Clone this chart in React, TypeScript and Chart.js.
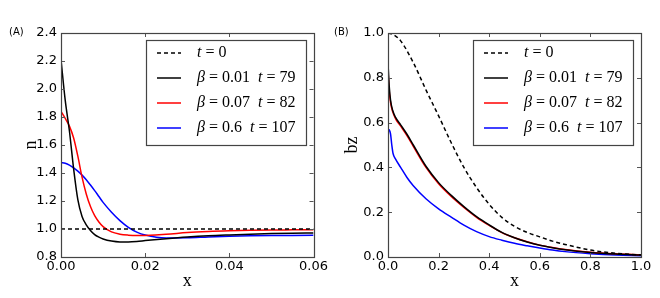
import React, { useEffect, useRef } from 'react';
import { Chart, registerables } from 'chart.js';

Chart.register(...registerables);

// ---------- Panel A : density n ----------
const xA = [0, 0.001, 0.002, 0.003, 0.004, 0.005, 0.006, 0.007, 0.008, 0.009, 0.010, 0.012, 0.014, 0.016, 0.018, 0.020, 0.025, 0.030, 0.035, 0.040, 0.045, 0.050, 0.055, 0.060];
const xA0 = [0, 0.06];
const nT0 = [1.0, 1.0];
const nB001 = [2.21, 1.92, 1.70, 1.43, 1.21, 1.09, 1.03, 0.99, 0.96, 0.942, 0.929, 0.914, 0.908, 0.908, 0.911, 0.917, 0.931, 0.943, 0.952, 0.958, 0.963, 0.967, 0.970, 0.972];
const nB007 = [1.84, 1.79, 1.735, 1.65, 1.52, 1.37, 1.25, 1.16, 1.095, 1.05, 1.017, 0.979, 0.963, 0.956, 0.953, 0.954, 0.962, 0.975, 0.983, 0.988, 0.991, 0.993, 0.994, 0.995];
const nB06 = [1.475, 1.469, 1.456, 1.437, 1.413, 1.385, 1.352, 1.314, 1.274, 1.232, 1.19, 1.12, 1.06, 1.012, 0.978, 0.957, 0.936, 0.937, 0.943, 0.948, 0.951, 0.953, 0.954, 0.955];

// ---------- Panel B : bz ----------
const xB0 = [0, 0.025, 0.05, 0.1, 0.15, 0.2, 0.25, 0.3, 0.35, 0.4, 0.45, 0.5, 0.55, 0.6, 0.65, 0.7, 0.8, 0.9, 1.0];
const bzT0 = [1.0, 0.99, 0.965, 0.868, 0.746, 0.63, 0.51, 0.40, 0.31, 0.235, 0.177, 0.137, 0.11, 0.09, 0.071, 0.056, 0.031, 0.017, 0.009];
const xB = [0, 0.005, 0.01, 0.018, 0.03, 0.05, 0.075, 0.1, 0.15, 0.2, 0.25, 0.3, 0.35, 0.4, 0.45, 0.5, 0.55, 0.6, 0.65, 0.7, 0.8, 0.9, 1.0];
const bzB001 = [0.865, 0.76, 0.70, 0.656, 0.623, 0.59, 0.548, 0.50, 0.405, 0.332, 0.275, 0.225, 0.18, 0.143, 0.11, 0.086, 0.067, 0.052, 0.041, 0.032, 0.02, 0.013, 0.009];
const bzB007 = [0.835, 0.74, 0.69, 0.65, 0.617, 0.584, 0.542, 0.494, 0.40, 0.327, 0.27, 0.221, 0.177, 0.141, 0.109, 0.086, 0.068, 0.053, 0.042, 0.033, 0.021, 0.014, 0.01];
const xBb = [0, 0.005, 0.01, 0.015, 0.02, 0.03, 0.05, 0.075, 0.1, 0.15, 0.2, 0.25, 0.3, 0.35, 0.4, 0.45, 0.5, 0.55, 0.6, 0.65, 0.7, 0.8, 0.9, 1.0];
const bzB06 = [0.57, 0.567, 0.55, 0.50, 0.462, 0.437, 0.40, 0.355, 0.318, 0.26, 0.215, 0.178, 0.142, 0.113, 0.091, 0.075, 0.061, 0.05, 0.04, 0.031, 0.024, 0.015, 0.009, 0.006];

const legendLabels = ['t=0', 'β=0.01 t=79', 'β=0.07 t=82', 'β=0.6 t=107'];

const UP = '16px "Liberation Serif"';
const IT = 'italic 16px "Liberation Serif"';

function drawMath(ctx: CanvasRenderingContext2D, text: string, x: number, y: number) {
  let cx = x;
  for (const ch of text) {
    if (ch === ' ') { cx += 8; continue; }
    if (ch === '=') {
      cx += 4;
      ctx.font = UP;
      ctx.fillText('=', cx, y);
      cx += ctx.measureText('=').width + 4;
      continue;
    }
    ctx.font = /[a-zA-Zα-ω]/.test(ch) ? IT : UP;
    ctx.fillText(ch, cx, y);
    cx += ctx.measureText(ch).width;
  }
}

const framePlugin = {
  id: 'frameTicks',
  afterDatasetsDraw(chart: any) {
    const { ctx, chartArea } = chart;
    const { left, right, top, bottom } = chartArea;
    ctx.save();
    ctx.strokeStyle = '#555';
    ctx.lineWidth = 1;
    ctx.setLineDash([]);
    const xs = chart.scales.x;
    const ys = chart.scales.y;
    ctx.beginPath();
    xs.ticks.forEach((t: any) => {
      const px = Math.round(xs.getPixelForValue(t.value)) + 0.5;
      ctx.moveTo(px, bottom); ctx.lineTo(px, bottom - 4);
      ctx.moveTo(px, top); ctx.lineTo(px, top + 4);
    });
    ys.ticks.forEach((t: any) => {
      const py = Math.round(ys.getPixelForValue(t.value)) + 0.5;
      ctx.moveTo(left, py); ctx.lineTo(left + 4, py);
      ctx.moveTo(right, py); ctx.lineTo(right - 4, py);
    });
    ctx.stroke();
    ctx.strokeStyle = '#444';
    ctx.lineWidth = 1.2;
    ctx.strokeRect(Math.round(left) + 0.5, Math.round(top) + 0.5, Math.round(right - left), Math.round(bottom - top));
    ctx.restore();
  },
};

const legendPlugin = {
  id: 'innerLegend',
  afterDraw(chart: any) {
    const { ctx, chartArea } = chart;
    const w = 160, h = 105;
    const x0 = Math.round(chartArea.right - 8 - w);
    const y0 = Math.round(chartArea.top + 7);
    ctx.save();
    ctx.fillStyle = '#fff';
    ctx.fillRect(x0, y0, w, h);
    ctx.strokeStyle = '#444';
    ctx.lineWidth = 1.2;
    ctx.setLineDash([]);
    ctx.strokeRect(x0 + 0.5, y0 + 0.5, w, h);
    chart.data.datasets.forEach((ds: any, i: number) => {
      const y = y0 + 13 + i * 25;
      ctx.strokeStyle = ds.borderColor;
      ctx.lineWidth = ds.borderWidth;
      ctx.setLineDash(ds.borderDash || []);
      ctx.beginPath();
      ctx.moveTo(x0 + 11, y);
      ctx.lineTo(x0 + 35, y);
      ctx.stroke();
      ctx.setLineDash([]);
      ctx.fillStyle = '#000';
      ctx.textBaseline = 'middle';
      ctx.textAlign = 'left';
      drawMath(ctx, legendLabels[i], x0 + 51, y);
    });
    ctx.font = '10px "DejaVu Sans"';
    ctx.fillStyle = '#000';
    ctx.textBaseline = 'middle';
    ctx.textAlign = 'left';
    ctx.fillText(chart.options.plugins.panelTag.text, chart.options.plugins.panelTag.x, 32);
    ctx.restore();
  },
};

const pts = (xs: number[], ys: number[]) => xs.map((x, i) => ({ x, y: ys[i] }));

type PanelProps = {
  series: { xs: number[]; ys: number[]; color: string; dash?: number[] }[];
  xMin: number; xMax: number; xStep: number; xDigits: number;
  yMin: number; yMax: number; yStep: number;
  yTitle: string; yTitlePad: number; yWidth: number; rightPad: number;
  tag: string; tagX: number;
};

function Panel(p: PanelProps) {
  const ref = useRef<HTMLCanvasElement>(null);
  useEffect(() => {
    if (!ref.current) return;
    const chart = new Chart(ref.current, {
      type: 'line',
      data: {
        datasets: p.series.map((s, i) => ({
          label: legendLabels[i],
          data: pts(s.xs, s.ys),
          borderColor: s.color,
          backgroundColor: s.color,
          borderWidth: 1.5,
          borderDash: s.dash,
          pointRadius: 0,
          fill: false,
          cubicInterpolationMode: 'monotone',
        })),
      },
      options: {
        responsive: false,
        devicePixelRatio: 1,
        animation: false,
        layout: { padding: { left: 0, right: p.rightPad, top: 33, bottom: 0 } },
        plugins: {
          legend: { display: false },
          tooltip: { enabled: false },
          panelTag: { text: p.tag, x: p.tagX },
        } as any,
        scales: {
          x: {
            type: 'linear',
            min: p.xMin, max: p.xMax,
            grid: { display: false, drawTicks: false },
            border: { display: false },
            ticks: {
              stepSize: p.xStep,
              autoSkip: false,
              maxRotation: 0,
              padding: 2,
              color: '#000',
              font: { family: 'DejaVu Sans', size: 13 },
              callback: (v: any) => Number(v).toFixed(p.xDigits),
            },
            title: { display: true, text: 'x', color: '#000', font: { family: 'Liberation Serif', size: 18 }, padding: { top: 0, bottom: 6 } },
            afterFit: (s: any) => { s.height = 41; },
          },
          y: {
            type: 'linear',
            min: p.yMin, max: p.yMax,
            grid: { display: false, drawTicks: false },
            border: { display: false },
            ticks: {
              stepSize: p.yStep,
              autoSkip: false,
              padding: 4,
              color: '#000',
              font: { family: 'DejaVu Sans', size: 13 },
              callback: (v: any) => Number(v).toFixed(1),
            },
            title: { display: true, text: p.yTitle, color: '#000', font: { family: 'Liberation Serif', size: 18 }, padding: { top: p.yTitlePad, bottom: 0 } },
            afterFit: (s: any) => { s.width = p.yWidth; },
          },
        },
      } as any,
      plugins: [framePlugin, legendPlugin],
    });
    return () => chart.destroy();
  }, []);
  return <canvas ref={ref} width={330} height={298} style={{ display: 'block', width: 330, height: 298 }} />;
}

export default function App() {
  return (
    <div style={{ position: 'absolute', left: 0, top: 0, width: 660, height: 298, display: 'flex', background: '#fff' }}>
      <Panel
        series={[
          { xs: xA0, ys: nT0, color: '#000000', dash: [4, 3] },
          { xs: xA, ys: nB001, color: '#000000' },
          { xs: xA, ys: nB007, color: '#ff0000' },
          { xs: xA, ys: nB06, color: '#0000ff' },
        ]}
        xMin={0} xMax={0.06} xStep={0.02} xDigits={2}
        yMin={0.8} yMax={2.4} yStep={0.2}
        yTitle="n" yTitlePad={20} yWidth={61} rightPad={16}
        tag="(A)" tagX={9}
      />
      <Panel
        series={[
          { xs: xB0, ys: bzT0, color: '#000000', dash: [4, 3] },
          { xs: xB, ys: bzB001, color: '#000000' },
          { xs: xB, ys: bzB007, color: '#ff0000' },
          { xs: xBb, ys: bzB06, color: '#0000ff' },
        ]}
        xMin={0} xMax={1.0} xStep={0.2} xDigits={1}
        yMin={0} yMax={1.0} yStep={0.2}
        yTitle="bz" yTitlePad={11} yWidth={58} rightPad={19}
        tag="(B)" tagX={4}
      />
    </div>
  );
}
